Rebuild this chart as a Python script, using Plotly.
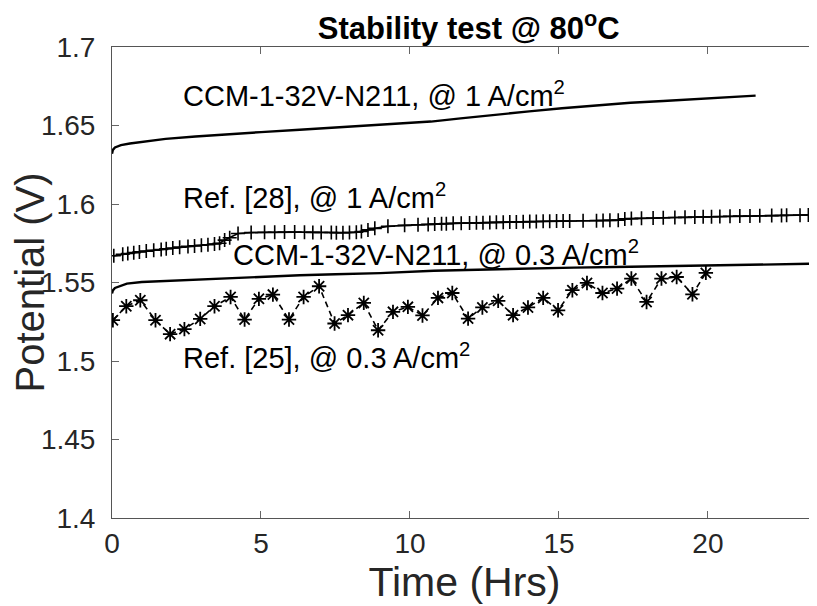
import plotly.graph_objects as go

# ---- data ----
ccm1_x = [0, 0.03, 0.1, 0.3, 0.6, 1.0, 1.8, 2.8, 4.0, 5.0, 6.3, 7.5, 8.5, 9.5, 10.7, 11.7,
          12.9, 14.0, 15.1, 16.2, 17.4, 18.5, 19.6, 20.6, 21.6]
ccm1_y = [1.632, 1.6345, 1.636, 1.6375, 1.6385, 1.6395, 1.6415, 1.643, 1.6443, 1.6458, 1.6473,
          1.6487, 1.650, 1.651, 1.6525, 1.6545, 1.657, 1.659, 1.661, 1.6628, 1.6645, 1.6656,
          1.6667, 1.6678, 1.669]

ref28_x = [0.06, 0.36, 0.53, 0.73, 0.92, 1.15, 1.40, 1.65, 1.82, 2.04, 2.27, 2.55, 2.77, 3.0,
           3.22, 3.44, 3.61, 3.78, 3.95, 4.23, 4.67, 5.12, 5.46, 5.79, 6.13, 6.46, 6.74, 7.02,
           7.36, 7.53, 7.75, 7.97, 8.20, 8.37, 8.59, 8.82, 9.26, 9.82, 10.27, 10.61, 10.83,
           11.06, 11.22, 11.45, 11.72, 12.0, 12.23, 12.45, 12.68, 12.90, 13.13, 13.35, 13.57,
           13.80, 14.02, 14.24, 14.47, 14.69, 14.92, 15.14, 15.36, 15.81, 16.26, 16.48, 16.71,
           16.99, 17.21, 17.43, 17.77, 18.16, 18.50, 18.89, 19.23, 19.56, 19.84, 20.12, 20.40,
           20.74, 21.07, 21.41, 21.74, 22.14, 22.47, 22.64, 23.09, 23.37, 23.59]
ref28_y = [1.567, 1.568, 1.5685, 1.569, 1.5695, 1.570, 1.5705, 1.571, 1.5715, 1.572, 1.5725,
           1.573, 1.5733, 1.5737, 1.574, 1.5745, 1.575, 1.577, 1.5785, 1.5812, 1.5818, 1.5820,
           1.5820, 1.5821, 1.5821, 1.5820, 1.5819, 1.5818, 1.5818, 1.5817, 1.5817, 1.5818,
           1.5820, 1.5825, 1.5835, 1.5845, 1.5858, 1.5864, 1.5868, 1.5870, 1.5872, 1.5874,
           1.5875, 1.5877, 1.5878, 1.5879, 1.5880, 1.5881, 1.5882, 1.5883, 1.5884, 1.5885,
           1.5886, 1.5887, 1.5888, 1.5889, 1.5890, 1.5890, 1.5891, 1.5892, 1.5892, 1.5893,
           1.5894, 1.5895, 1.5896, 1.5897, 1.5905, 1.5907, 1.5909, 1.5911, 1.5912, 1.5914,
           1.5915, 1.5917, 1.5918, 1.5919, 1.5920, 1.5922, 1.5923, 1.5924, 1.5925, 1.5926,
           1.5927, 1.5928, 1.5929, 1.5930, 1.5931]

ccm03_x = [0, 0.03, 0.1, 0.3, 0.5, 1.0, 2.0, 2.9, 4.0, 5.0, 6.3, 7.5, 9.0, 10.8, 12.5, 14.0,
           15.5, 17.4, 19.0, 20.5, 22.0, 23.66]
ccm03_y = [1.543, 1.545, 1.5465, 1.548, 1.5493, 1.5503, 1.5512, 1.5519, 1.5528, 1.5537,
           1.5546, 1.5553, 1.556, 1.5575, 1.5583, 1.559, 1.5595, 1.5600, 1.5606, 1.5612,
           1.5617, 1.562]

ref25_x = [0.03, 0.48, 0.95, 1.46, 1.95, 2.43, 2.96, 3.44, 3.98, 4.45, 4.93, 5.40, 5.94, 6.43,
           6.95, 7.47, 7.92, 8.45, 8.93, 9.43, 9.93, 10.42, 10.94, 11.42, 11.95, 12.43, 12.96,
           13.46, 13.96, 14.47, 14.97, 15.45, 15.94, 16.46, 16.95, 17.43, 17.94, 18.44, 18.95,
           19.48, 19.93]
ref25_y = [1.526, 1.5349, 1.5387, 1.526, 1.5171, 1.5203, 1.5268, 1.5349, 1.5408, 1.5264,
           1.5396, 1.5423, 1.5264, 1.5408, 1.5476, 1.5239, 1.5292, 1.537, 1.5196, 1.5313,
           1.5345, 1.529, 1.5402, 1.5433, 1.527, 1.5341, 1.5383, 1.5292, 1.5341, 1.5402,
           1.5323, 1.5451, 1.5497, 1.5433, 1.5461, 1.5525, 1.5376, 1.5525, 1.5535, 1.5425,
           1.5561]

labels = ["CCM-1-32V-N211, @ 1 A/cm<sup>2</sup>",
          "Ref. [28], @ 1 A/cm<sup>2</sup>",
          "CCM-1-32V-N211, @ 0.3 A/cm<sup>2</sup>",
          "Ref. [25], @ 0.3 A/cm<sup>2</sup>"]
label_x = [2.3, 2.3, 3.98, 2.3]
label_y = [1.670, 1.605, 1.569, 1.503]

title_text = "<b>Stability test @ 80<sup>o</sup>C</b>"
x_title = "Time (Hrs)"
y_title = "Potential (V)"
x_ticks = [0, 5, 10, 15, 20]
y_ticks = [1.4, 1.45, 1.5, 1.55, 1.6, 1.65, 1.7]
y_ticklabels = ["1.4", "1.45", "1.5", "1.55", "1.6", "1.65", "1.7"]

FONT = "Arial, Liberation Sans, Helvetica, sans-serif"

fig = go.Figure()
fig.add_trace(go.Scatter(x=ccm1_x, y=ccm1_y, mode="lines",
                         line=dict(color="black", width=2.4), showlegend=False))
fig.add_trace(go.Scatter(x=ref28_x, y=ref28_y, mode="lines+markers",
                         line=dict(color="black", width=1.7),
                         marker=dict(symbol="cross-thin", size=10,
                                     line=dict(color="black", width=1.6)),
                         showlegend=False))
fig.add_trace(go.Scatter(x=ccm03_x, y=ccm03_y, mode="lines",
                         line=dict(color="black", width=2.4), showlegend=False))
fig.add_trace(go.Scatter(x=ref25_x, y=ref25_y, mode="lines+markers",
                         line=dict(color="black", width=1.6, dash="6px,4px"),
                         marker=dict(symbol="asterisk-open", size=12,
                                     line=dict(color="black", width=1.8)),
                         showlegend=False))

for t, xx, yy in zip(labels, label_x, label_y):
    fig.add_annotation(x=xx, y=yy, xref="x", yref="y", text=t, showarrow=False,
                       xanchor="left", yanchor="middle",
                       font=dict(family=FONT, size=29, color="black"))

# y-axis title as rotated text placed to match the reference
fig.add_annotation(x=0, y=0.5, xref="paper", yref="paper", text=y_title, showarrow=False,
                   textangle=-90, xanchor="center", yanchor="middle", xshift=-83,
                   font=dict(family=FONT, size=40, color="#262626"))

# The page body adds an 8px offset; size the figure to fill the 817x606 window.
fig.update_layout(
    width=809, height=598,
    margin=dict(l=104, r=0, t=39, b=88),
    paper_bgcolor="white", plot_bgcolor="white",
    font=dict(family=FONT, color="#262626"),
    title=dict(text=title_text, x=0.5695, xanchor="center", y=0.967, yanchor="middle",
               font=dict(family=FONT, size=31, color="black")),
)
fig.update_xaxes(range=[0, 23.66], tickvals=x_ticks, ticks="inside", ticklen=7,
                 tickcolor="#666", tickwidth=1, showline=True, linecolor="#555",
                 linewidth=1, mirror="ticks", showgrid=False, zeroline=False,
                 automargin=False,
                 tickfont=dict(size=28, color="#262626"),
                 title=dict(text=x_title, font=dict(size=41, color="#262626"), standoff=2))
fig.update_yaxes(range=[1.4, 1.7], tickvals=y_ticks, ticktext=y_ticklabels,
                 ticks="inside", ticklen=7, tickcolor="#666", tickwidth=1,
                 showline=True, linecolor="#555", linewidth=1, mirror=False,
                 showgrid=False, zeroline=False, ticklabelstandoff=10, automargin=False,
                 tickfont=dict(size=28, color="#262626"))

fig.write_html("out.html")
